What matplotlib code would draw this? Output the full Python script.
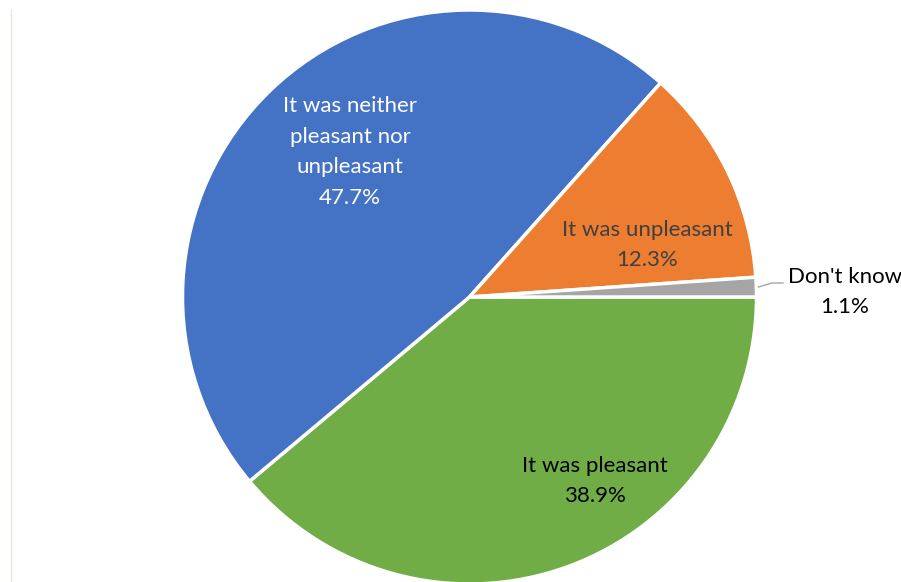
import numpy as np
import matplotlib.pyplot as plt

plt.rcParams['font.family'] = ['Lato', 'DejaVu Sans']

# data, clockwise from 3 o'clock
labels = ['It was pleasant', 'It was neither\npleasant nor\nunpleasant', 'It was unpleasant', "Don't know"]
values = [38.9, 47.7, 12.3, 1.1]
colors = ['#70AD47', '#4472C4', '#ED7D31', '#A5A5A5']
text_colors = ['black', 'white', '#404040', 'black']

# label positions in pixel coords (x, y from top)
label_pos = [(595, 481), (350, 152), (647, 245), (845, 292)]

W, H = 901, 582
cx, cy, R = 469.5, H - 297, 287

fig = plt.figure(figsize=(W / 100, H / 100), dpi=100)
ax = fig.add_axes([0, 0, 1, 1])

wedges, _ = ax.pie(values, colors=colors, startangle=0, counterclock=False,
                   center=(cx, cy), radius=R,
                   wedgeprops=dict(edgecolor='white', linewidth=2.5))
ax.set_xlim(0, W)
ax.set_ylim(0, H)
ax.set_aspect('equal')
ax.axis('off')

for lab, v, tc, (px, py) in zip(labels, values, text_colors, label_pos):
    ax.text(px, H - py, '%s\n%.1f%%' % (lab, v), ha='center', va='center',
            color=tc, fontsize=16, linespacing=1.65)

# leader line for the small slice
w = wedges[3]
mid = np.deg2rad((w.theta1 + w.theta2) / 2)
x0, y0 = cx + R * np.cos(mid), cy + R * np.sin(mid)
ax.plot([x0 + 2, 772, 783], [y0, H - 283, H - 283], color='#A5A5A5', lw=1)

# faint chart-area border on the left
ax.plot([11, 11], [0, H - 10], color='#E8E8D8', lw=1)

fig.savefig('out.png', dpi=100)
